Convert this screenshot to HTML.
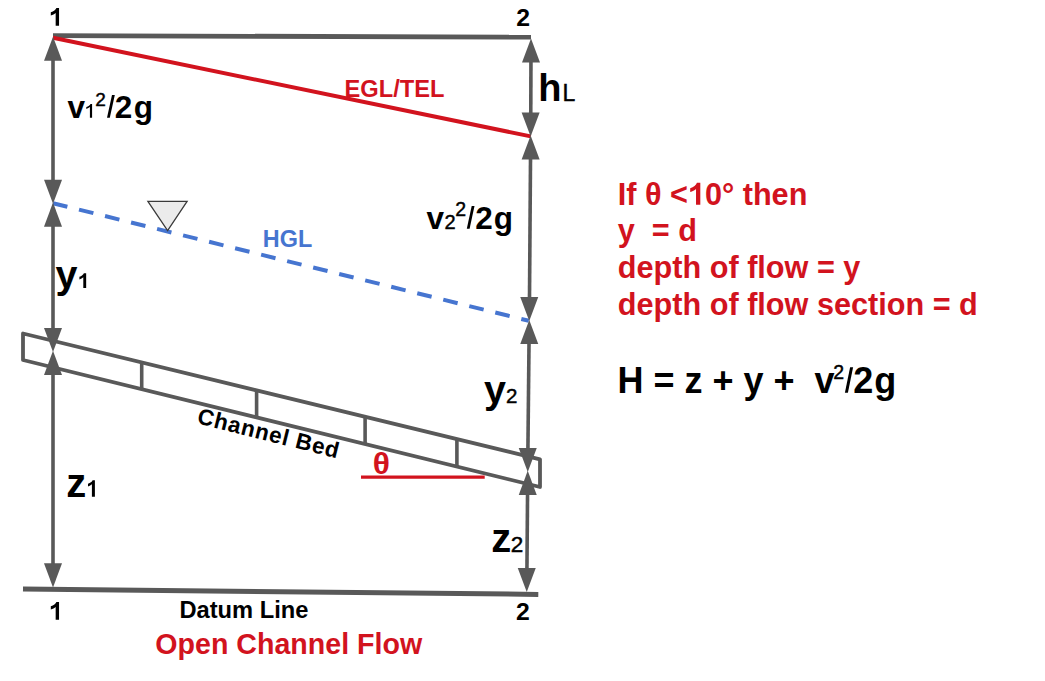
<!DOCTYPE html>
<html><head><meta charset="utf-8"><title>Open Channel Flow</title>
<style>html,body{margin:0;padding:0;background:#fff;}svg{display:block;}</style></head>
<body><svg width="1045" height="681" viewBox="0 0 1045 681">
<rect width="1045" height="681" fill="#fff"/>
<line x1="53" y1="35.6" x2="531" y2="37.2" stroke="#595959" stroke-width="4.8"/>
<line x1="23" y1="589" x2="538.3" y2="594.4" stroke="#595959" stroke-width="5"/>
<line x1="53" y1="59.8" x2="53" y2="180.7" stroke="#595959" stroke-width="3.6"/>
<line x1="53" y1="225.7" x2="53" y2="328.9" stroke="#595959" stroke-width="3.6"/>
<line x1="53" y1="373.9" x2="53" y2="564.3" stroke="#595959" stroke-width="3.6"/>
<line x1="530.95" y1="61.5" x2="530.77" y2="113.5" stroke="#595959" stroke-width="3.6"/>
<line x1="530.51" y1="158.5" x2="529.50" y2="298.0" stroke="#595959" stroke-width="3.6"/>
<line x1="529.02" y1="343.0" x2="527.91" y2="448.9" stroke="#595959" stroke-width="3.6"/>
<line x1="527.55" y1="493.9" x2="526.95" y2="568.9" stroke="#595959" stroke-width="3.6"/>
<polygon points="23,333.5 540,459.3 540,487.0 23,360.0" fill="none" stroke="#595959" stroke-width="3.8" stroke-linejoin="round"/>
<line x1="141.7" y1="362.38" x2="141.7" y2="389.16" stroke="#595959" stroke-width="3.6"/>
<line x1="256.6" y1="390.34" x2="256.6" y2="417.38" stroke="#595959" stroke-width="3.6"/>
<line x1="365.1" y1="416.74" x2="365.1" y2="444.04" stroke="#595959" stroke-width="3.6"/>
<line x1="456.9" y1="439.08" x2="456.9" y2="466.59" stroke="#595959" stroke-width="3.6"/>
<line x1="53" y1="203.2" x2="528.8" y2="320.8" stroke="#4675d0" stroke-width="4" stroke-dasharray="14.8 12"/>
<line x1="53" y1="37.8" x2="530.8" y2="136.4" stroke="#d2131e" stroke-width="4"/>
<polygon points="53.00,36.70 44.00,60.80 62.00,60.80" fill="#595959"/>
<polygon points="53.00,203.80 44.00,179.70 62.00,179.70" fill="#595959"/>
<polygon points="53.00,202.60 44.00,226.70 62.00,226.70" fill="#595959"/>
<polygon points="53.00,352.00 44.00,327.90 62.00,327.90" fill="#595959"/>
<polygon points="53.00,350.80 44.00,374.90 62.00,374.90" fill="#595959"/>
<polygon points="53.00,587.40 44.00,563.30 62.00,563.30" fill="#595959"/>
<polygon points="530.99,38.40 521.99,62.50 539.99,62.50" fill="#595959"/>
<polygon points="530.64,136.60 521.64,112.50 539.64,112.50" fill="#595959"/>
<polygon points="530.64,135.40 521.64,159.50 539.64,159.50" fill="#595959"/>
<polygon points="529.26,321.10 520.26,297.00 538.26,297.00" fill="#595959"/>
<polygon points="529.26,319.90 520.26,344.00 538.26,344.00" fill="#595959"/>
<polygon points="527.73,472.00 518.73,447.90 536.73,447.90" fill="#595959"/>
<polygon points="527.73,470.80 518.73,494.90 536.73,494.90" fill="#595959"/>
<polygon points="526.77,592.00 517.77,567.90 535.77,567.90" fill="#595959"/>
<line x1="361" y1="477.2" x2="484.7" y2="477.2" stroke="#d2131e" stroke-width="3.2"/>
<polygon points="147.9,201.3 187.1,201.3 167.6,230.7" fill="#ebebeb" stroke="#3a3a3a" stroke-width="1.3"/>
<path d="M59.05,25.80 L59.05,7.90 L56.42,7.90 C55.67,9.80 53.72,11.42 50.80,12.30 L50.80,15.43 C52.75,14.80 54.46,13.93 55.67,12.93 L55.67,25.80 Z" fill="#000"/>
<text x="516.2" y="25.8" font-family="Liberation Sans, sans-serif" font-size="24.8" font-weight="bold" fill="#000" xml:space="preserve" >2</text>
<path d="M59.05,619.80 L59.05,601.90 L56.42,601.90 C55.67,603.80 53.72,605.42 50.80,606.30 L50.80,609.42 C52.75,608.80 54.46,607.92 55.67,606.92 L55.67,619.80 Z" fill="#000"/>
<text x="516.0" y="619.8" font-family="Liberation Sans, sans-serif" font-size="24.8" font-weight="bold" fill="#000" xml:space="preserve" >2</text>
<text x="67.5" y="117.7" font-family="Liberation Sans, sans-serif" font-size="31.5" font-weight="bold" fill="#000" xml:space="preserve" >v</text>
<path d="M92.09,117.70 L92.09,104.10 L90.48,104.10 C89.91,105.54 88.47,106.39 86.30,107.06 L86.30,108.96 C87.74,108.48 89.01,107.82 89.91,107.06 L89.91,117.70 Z" fill="#000"/>
<text x="95.3" y="105.7" font-family="Liberation Sans, sans-serif" font-size="19" stroke="#000" stroke-width="0.45" fill="#000" xml:space="preserve" >2</text>
<polygon points="107,117.7 109.8,117.7 114.8,95.0 112.0,95.0" fill="#000"/>
<text x="114.8" y="117.7" font-family="Liberation Sans, sans-serif" font-size="31.5" font-weight="bold" fill="#000" xml:space="preserve" >2</text>
<text x="133.8" y="117.7" font-family="Liberation Sans, sans-serif" font-size="31.5" font-weight="bold" fill="#000" xml:space="preserve" >g</text>
<text x="426.6" y="228.8" font-family="Liberation Sans, sans-serif" font-size="31.5" font-weight="bold" fill="#000" xml:space="preserve" >v</text>
<text x="444.6" y="228.8" font-family="Liberation Sans, sans-serif" font-size="20" stroke="#000" stroke-width="0.45" fill="#000" xml:space="preserve" >2</text>
<text x="455.3" y="215.9" font-family="Liberation Sans, sans-serif" font-size="19.5" stroke="#000" stroke-width="0.45" fill="#000" xml:space="preserve" >2</text>
<polygon points="466.8,228.8 469.6,228.8 474.5,206.0 471.7,206.0" fill="#000"/>
<text x="475.2" y="228.8" font-family="Liberation Sans, sans-serif" font-size="31.5" font-weight="bold" fill="#000" xml:space="preserve" >2</text>
<text x="493.8" y="228.8" font-family="Liberation Sans, sans-serif" font-size="31.5" font-weight="bold" fill="#000" xml:space="preserve" >g</text>
<text x="344.5" y="96.6" font-family="Liberation Sans, sans-serif" font-size="23.7" font-weight="bold" fill="#d2131e" xml:space="preserve" >EGL/TEL</text>
<text x="538.3" y="100.7" font-family="Liberation Sans, sans-serif" font-size="38" font-weight="bold" fill="#000" xml:space="preserve" >h</text>
<text x="562.6" y="100.7" font-family="Liberation Sans, sans-serif" font-size="23" stroke="#000" stroke-width="0.45" fill="#000" xml:space="preserve" >L</text>
<text x="262.8" y="246.8" font-family="Liberation Sans, sans-serif" font-size="23.4" font-weight="bold" fill="#4675d0" xml:space="preserve" >HGL</text>
<text x="55.5" y="287.8" font-family="Liberation Sans, sans-serif" font-size="39.5" font-weight="bold" fill="#000" xml:space="preserve" >y</text>
<path d="M86.17,287.90 L86.17,273.22 L83.91,273.22 C83.30,274.78 81.74,276.11 79.40,276.83 L79.40,279.39 C80.96,278.88 82.32,278.16 83.30,277.34 L83.30,287.90 Z" fill="#000"/>
<text x="484" y="402.9" font-family="Liberation Sans, sans-serif" font-size="39.5" font-weight="bold" fill="#000" xml:space="preserve" >y</text>
<text x="506" y="402.9" font-family="Liberation Sans, sans-serif" font-size="20.5" stroke="#000" stroke-width="0.45" fill="#000" xml:space="preserve" >2</text>
<text x="66.2" y="496.8" font-family="Liberation Sans, sans-serif" font-size="40" font-weight="bold" fill="#000" xml:space="preserve" >z</text>
<path d="M94.90,496.80 L94.90,480.33 L92.60,480.33 C91.91,482.08 90.35,483.00 88.00,483.81 L88.00,486.45 C89.56,485.88 90.93,485.07 91.91,484.15 L91.91,496.80 Z" fill="#000"/>
<text x="491.2" y="551.6" font-family="Liberation Sans, sans-serif" font-size="40" font-weight="bold" fill="#000" xml:space="preserve" >z</text>
<text x="510.8" y="551.6" font-family="Liberation Sans, sans-serif" font-size="22.5" stroke="#000" stroke-width="0.45" fill="#000" xml:space="preserve" >2</text>
<text transform="translate(372.8,474.1) scale(1.06,1)" font-family="Liberation Sans, sans-serif" font-size="30" font-weight="bold" fill="#d2131e" xml:space="preserve" >θ</text>
<text transform="translate(196.3,423.0) rotate(14.1)" font-family="Liberation Sans, sans-serif" font-size="22.5" font-weight="bold" fill="#000" xml:space="preserve" letter-spacing="0.75">Channel Bed</text>
<text x="179.4" y="618" font-family="Liberation Sans, sans-serif" font-size="23.7" font-weight="bold" fill="#000" xml:space="preserve" >Datum Line</text>
<text x="155.3" y="654.1" font-family="Liberation Sans, sans-serif" font-size="28.6" font-weight="bold" fill="#d2131e" xml:space="preserve" >Open Channel Flow</text>
<text x="617.8" y="204.7" font-family="Liberation Sans, sans-serif" font-size="30.65" font-weight="bold" fill="#d2131e" xml:space="preserve" >If θ &lt;</text>
<path d="M700.31,204.70 L700.31,182.75 L696.94,182.75 C696.02,185.08 693.69,187.08 690.20,188.15 L690.20,191.98 C692.53,191.21 694.57,190.14 696.02,188.92 L696.02,204.70 Z" fill="#d2131e"/>
<text x="704.9" y="204.7" font-family="Liberation Sans, sans-serif" font-size="30.65" font-weight="bold" fill="#d2131e" xml:space="preserve" >0° then</text>
<text x="617.8" y="241.3" font-family="Liberation Sans, sans-serif" font-size="30.65" font-weight="bold" fill="#d2131e" xml:space="preserve" >y  = d</text>
<text x="617.8" y="277.9" font-family="Liberation Sans, sans-serif" font-size="30.65" font-weight="bold" fill="#d2131e" xml:space="preserve" >depth of flow = y</text>
<text x="617.8" y="314.5" font-family="Liberation Sans, sans-serif" font-size="30.65" font-weight="bold" fill="#d2131e" xml:space="preserve" >depth of flow section = d</text>
<text x="617.5" y="392.8" font-family="Liberation Sans, sans-serif" font-size="36" font-weight="bold" fill="#000" xml:space="preserve" >H = z + y +  v</text>
<text x="833.2" y="378.5" font-family="Liberation Sans, sans-serif" font-size="19.5" stroke="#000" stroke-width="0.45" fill="#000" xml:space="preserve" >2</text>
<polygon points="844.9,392.8 847.9,392.8 853.1,367.2 850.1,367.2" fill="#000"/>
<text x="853.2" y="392.8" font-family="Liberation Sans, sans-serif" font-size="36" font-weight="bold" fill="#000" xml:space="preserve" >2</text>
<text x="874.3" y="392.8" font-family="Liberation Sans, sans-serif" font-size="36" font-weight="bold" fill="#000" xml:space="preserve" >g</text>
</svg></body></html>
